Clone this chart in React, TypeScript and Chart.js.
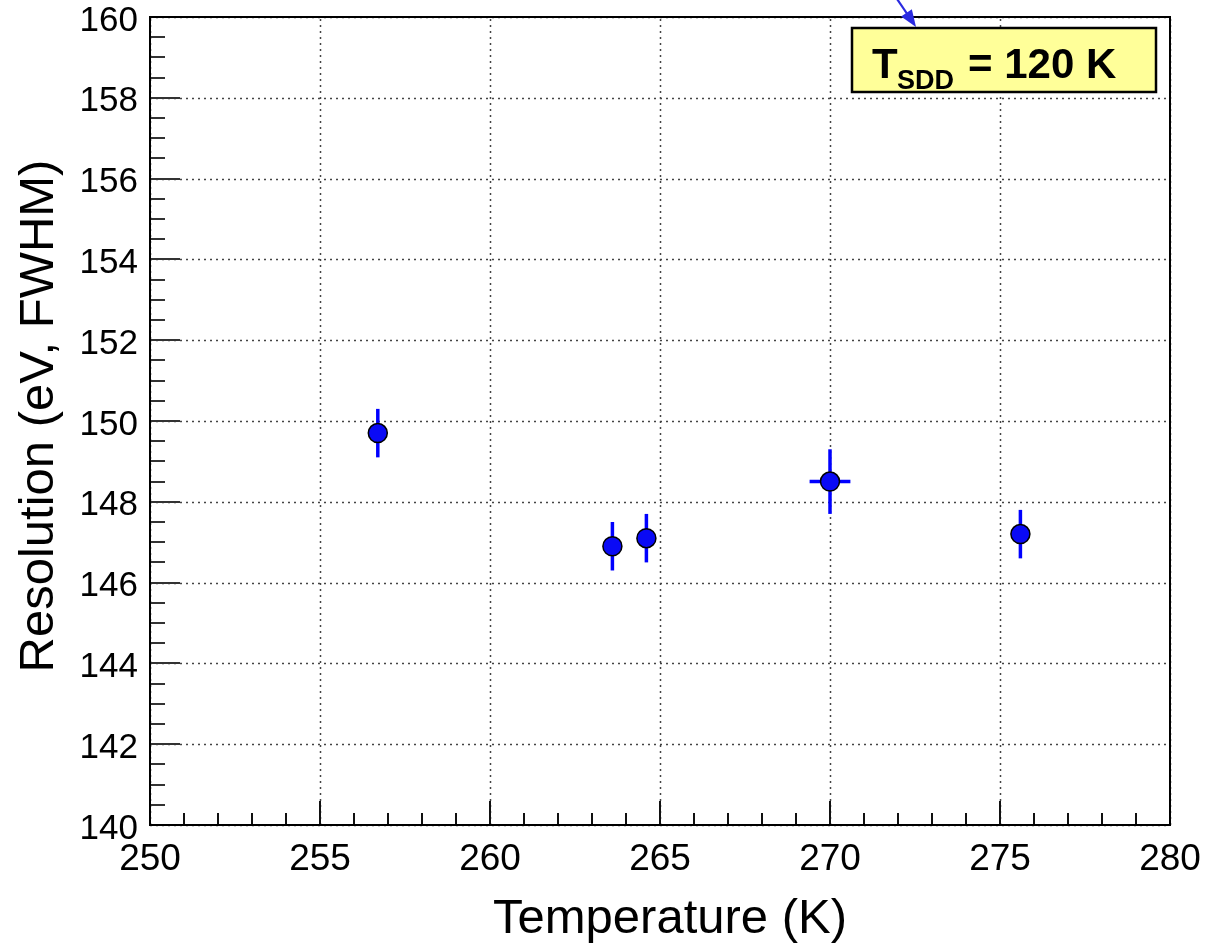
import React, { useEffect, useRef } from "react";
import { Chart, registerables } from "chart.js";

Chart.register(...registerables);

// ---- data ----
const temperatures = [256.7, 263.6, 264.6, 270.0, 275.6];
const resolutions = [149.7, 146.9, 147.1, 148.5, 147.2];
const resolutionErrors = [0.6, 0.6, 0.6, 0.8, 0.6];
const temperatureErrors = [0, 0, 0, 0.6, 0];
const xTicks = [250, 255, 260, 265, 270, 275, 280];
const yTicks = [140, 142, 144, 146, 148, 150, 152, 154, 156, 158, 160];
const xTitle = "Temperature (K)";
const yTitle = "Resolution (eV, FWHM)";
const boxMain = "T";
const boxSub = "SDD";
const boxRest = "= 120 K";

const FONT = '"Liberation Sans", Arial, Helvetica, sans-serif';

const overlay = {
  id: "overlay",
  beforeDatasetsDraw(chart: any) {
    const { ctx, chartArea: a, scales } = chart;
    const x = scales.x;
    const y = scales.y;
    ctx.save();
    // dotted grid at major ticks
    ctx.strokeStyle = "#444";
    ctx.lineWidth = 1.5;
    ctx.setLineDash([2, 4]);
    x.ticks.forEach((tk: any) => {
      const px = Math.round(x.getPixelForValue(tk.value)) + 0.5;
      ctx.beginPath();
      ctx.moveTo(px, a.bottom);
      ctx.lineTo(px, a.top);
      ctx.stroke();
    });
    y.ticks.forEach((tk: any) => {
      const py = Math.round(y.getPixelForValue(tk.value)) + 0.5;
      ctx.beginPath();
      ctx.moveTo(a.left, py);
      ctx.lineTo(a.right, py);
      ctx.stroke();
    });
    ctx.setLineDash([]);
    // minor / major ticks (inside)
    ctx.strokeStyle = "#333";
    ctx.lineWidth = 2;
    for (let v = y.min; v <= y.max + 1e-9; v += 0.5) {
      const py = Math.round(y.getPixelForValue(v));
      const major = Math.abs(v / 2 - Math.round(v / 2)) < 1e-6;
      ctx.beginPath();
      ctx.moveTo(a.left, py);
      ctx.lineTo(a.left + (major ? 30 : 15), py);
      ctx.stroke();
    }
    ctx.strokeStyle = "#111";
    for (let v = x.min; v <= x.max + 1e-9; v += 1) {
      const px = Math.round(x.getPixelForValue(v));
      const major = Math.abs(v / 5 - Math.round(v / 5)) < 1e-6;
      ctx.beginPath();
      ctx.moveTo(px, a.bottom);
      ctx.lineTo(px, a.bottom - (major ? 24 : 12));
      ctx.stroke();
    }
    // frame
    ctx.strokeStyle = "#000";
    ctx.lineWidth = 2;
    ctx.strokeRect(a.left, a.top, a.right - a.left, a.bottom - a.top);

    // error bars
    ctx.strokeStyle = "#0000ff";
    ctx.lineWidth = 3.5;
    temperatures.forEach((t, i) => {
      const px = x.getPixelForValue(t);
      const py = y.getPixelForValue(resolutions[i]);
      const ey = resolutionErrors[i];
      const ex = temperatureErrors[i];
      if (ey > 0) {
        ctx.beginPath();
        ctx.moveTo(px, y.getPixelForValue(resolutions[i] + ey));
        ctx.lineTo(px, y.getPixelForValue(resolutions[i] - ey));
        ctx.stroke();
      }
      if (ex > 0) {
        ctx.beginPath();
        ctx.moveTo(x.getPixelForValue(t - ex), py);
        ctx.lineTo(x.getPixelForValue(t + ex), py);
        ctx.stroke();
      }
    });
    ctx.restore();
  },
  afterDraw(chart: any) {
    const { ctx, chartArea: a, scales } = chart;
    const x = scales.x;
    const y = scales.y;
    ctx.save();
    ctx.fillStyle = "#000";
    // y tick labels
    ctx.font = `35px ${FONT}`;
    ctx.textAlign = "right";
    ctx.textBaseline = "middle";
    y.ticks.forEach((tk: any) => {
      ctx.fillText(String(tk.value), a.left - 12, y.getPixelForValue(tk.value) + 4);
    });
    // x tick labels
    ctx.font = `37px ${FONT}`;
    ctx.textAlign = "center";
    ctx.textBaseline = "alphabetic";
    x.ticks.forEach((tk: any) => {
      ctx.fillText(String(tk.value), x.getPixelForValue(tk.value), a.bottom + 45);
    });
    // titles
    ctx.font = `49px ${FONT}`;
    ctx.fillText(xTitle, (a.left + a.right) / 2 + 10, a.bottom + 108);
    ctx.save();
    ctx.translate(53, (a.top + a.bottom) / 2 - 5);
    ctx.rotate(-Math.PI / 2);
    ctx.fillText(yTitle, 0, 0);
    ctx.restore();

    // arrow
    ctx.strokeStyle = "#2a2ae0";
    ctx.fillStyle = "#2a2ae0";
    ctx.lineWidth = 2.2;
    const tx = 916, ty = 27, sx = 895, sy = -4;
    ctx.beginPath();
    ctx.moveTo(sx, sy);
    ctx.lineTo(tx - 4, ty - 6);
    ctx.stroke();
    const ang = Math.atan2(ty - sy, tx - sx);
    const hl = 17, hw = 6.5;
    ctx.beginPath();
    ctx.moveTo(tx, ty);
    ctx.lineTo(tx - hl * Math.cos(ang) + hw * Math.sin(ang), ty - hl * Math.sin(ang) - hw * Math.cos(ang));
    ctx.lineTo(tx - hl * Math.cos(ang) - hw * Math.sin(ang), ty - hl * Math.sin(ang) + hw * Math.cos(ang));
    ctx.closePath();
    ctx.fill();

    // label box
    ctx.fillStyle = "#ffff99";
    ctx.fillRect(852, 28, 304, 64);
    ctx.strokeStyle = "#000";
    ctx.lineWidth = 2.5;
    ctx.strokeRect(852, 28, 304, 64);
    ctx.fillStyle = "#000";
    ctx.textAlign = "left";
    ctx.textBaseline = "alphabetic";
    ctx.font = `bold 42px ${FONT}`;
    ctx.fillText(boxMain, 872, 78);
    ctx.font = `bold 27px ${FONT}`;
    ctx.fillText(boxSub, 897, 89);
    ctx.font = `bold 42px ${FONT}`;
    ctx.fillText(boxRest, 968, 78);
    ctx.restore();
  },
};

export default function App() {
  const ref = useRef<HTMLCanvasElement | null>(null);
  useEffect(() => {
    if (!ref.current) return;
    const chart = new Chart(ref.current, {
      type: "scatter",
      data: {
        datasets: [
          {
            label: "Resolution",
            data: temperatures.map((t, i) => ({ x: t, y: resolutions[i] })),
            pointRadius: 9.5,
            pointHoverRadius: 9.5,
            pointBackgroundColor: "#0a0af5",
            pointBorderColor: "#000",
            pointBorderWidth: 1.5,
            showLine: false,
          },
        ],
      },
      options: {
        animation: false,
        responsive: true,
        maintainAspectRatio: false,
        layout: { padding: { top: 17, right: 49, left: 0, bottom: 0 } },
        plugins: { legend: { display: false }, tooltip: { enabled: false }, title: { display: false } },
        scales: {
          x: {
            type: "linear",
            min: 250,
            max: 280,
            afterBuildTicks: (s: any) => {
              s.ticks = xTicks.map((v) => ({ value: v }));
            },
            afterFit: (s: any) => {
              s.height = 118;
              s.paddingLeft = 0;
              s.paddingRight = 0;
            },
            ticks: { display: false, autoSkip: false },
            border: { display: false },
            grid: { display: false },
          },
          y: {
            type: "linear",
            min: 140,
            max: 160,
            afterBuildTicks: (s: any) => {
              s.ticks = yTicks.map((v) => ({ value: v }));
            },
            afterFit: (s: any) => {
              s.width = 150;
              s.paddingTop = 0;
              s.paddingBottom = 0;
            },
            ticks: { display: false, autoSkip: false },
            border: { display: false },
            grid: { display: false },
          },
        },
      },
      plugins: [overlay],
    });
    return () => chart.destroy();
  }, []);
  return (
    <div style={{ position: "absolute", left: 0, top: 0, width: 1219, height: 943, background: "#fff" }}>
      <canvas ref={ref} />
    </div>
  );
}
